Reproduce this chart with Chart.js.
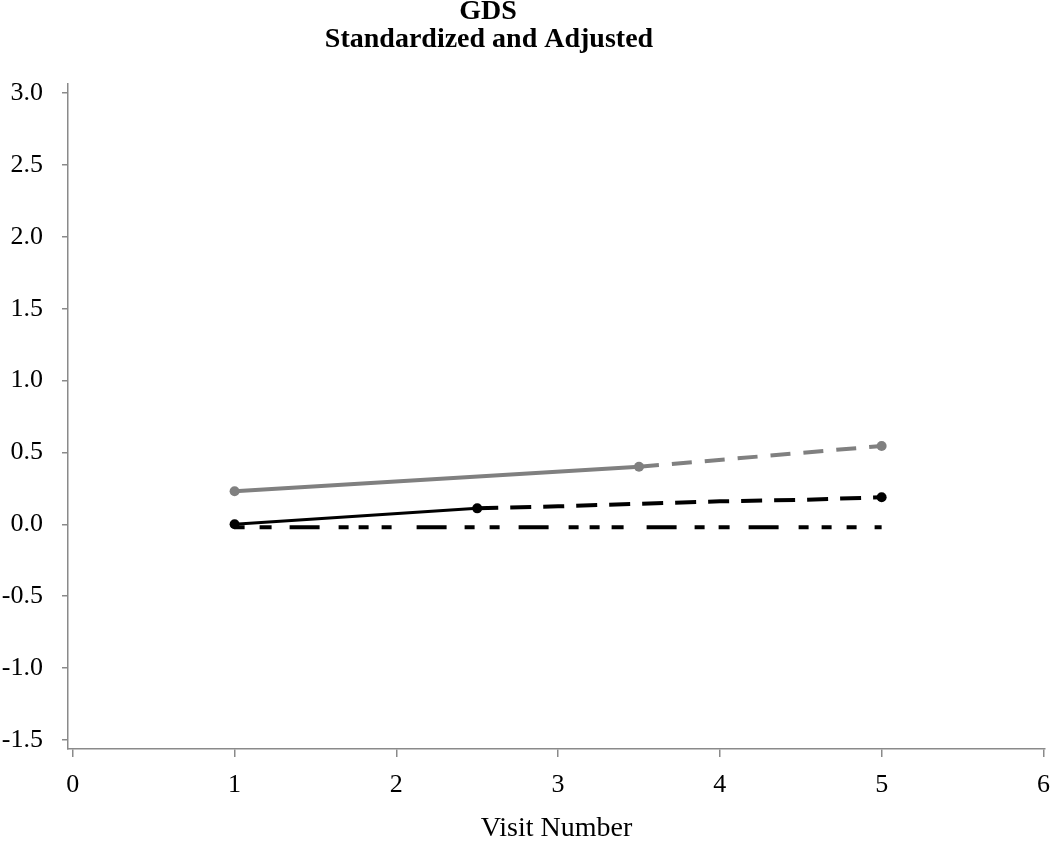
<!DOCTYPE html>
<html>
<head>
<meta charset="utf-8">
<script src="https://cdn.jsdelivr.net/npm/chart.js@4/dist/chart.umd.min.js"></script>
<style>
  html, body { margin: 0; padding: 0; background: #fff; }
  #wrap { width: 1050px; height: 843px; }
</style>
</head>
<body>
<div id="wrap"><canvas id="gds"></canvas></div>
<script>
// title lines
var titleLines = ['GDS', 'Standardized and Adjusted'];

// gray group
var grayVisits = [1, 3.5];
var grayValues = [0.23, 0.40];
var grayDashVisits = [3.5, 5];
var grayDashValues = [0.40, 0.545];

// black group
var blackVisits = [1, 2.5];
var blackValues = [0.0, 0.111];
var blackDashVisits = [2.5, 3, 3.5, 4, 4.5, 5];
var blackDashValues = [0.111, 0.125, 0.143, 0.16, 0.17, 0.188];

// reference line
var refVisits = [1, 5];
var refValues = [-0.02, -0.02];

// ticks
var xTicks = [0, 1, 2, 3, 4, 5, 6];
var yTicks = [-1.5, -1.0, -0.5, 0.0, 0.5, 1.0, 1.5, 2.0, 2.5, 3.0];

function pts(xs, ys) {
  var out = [];
  for (var i = 0; i < xs.length; i++) out.push({x: xs[i], y: ys[i]});
  return out;
}

var axisColor = '#8a8a8a';
var serif = "'Liberation Serif', 'Times New Roman', serif";

// irregular long/short pattern of the flat reference line
var refDash = [10,15,12,18,30,19,10,10,10,13,10,25,30,18,10,15,10,19,30,20,10,11,10,12,12,23,
               30,18,10,14,11,19,30,20,10,13,10,15,10,18,10,60];

// draws the two title lines a bit left of center like the original
var titlePlugin = {
  id: 'titleText',
  afterDraw: function(chart) {
    var ctx = chart.ctx;
    ctx.save();
    ctx.fillStyle = '#000';
    ctx.font = 'bold 28px ' + serif;
    ctx.textAlign = 'center';
    ctx.textBaseline = 'alphabetic';
    ctx.fillText(titleLines[0], 488, 19);
    ctx.fillText(titleLines[1], 489, 47);
    ctx.restore();
  }
};

var ctx = document.getElementById('gds');
var chart = new Chart(ctx, {
  type: 'line',
  data: {
    datasets: [
      {
        data: pts(blackVisits, blackValues),
        borderColor: '#000', backgroundColor: '#000',
        borderWidth: 3, pointRadius: 5, pointBorderWidth: 0
      },
      {
        data: pts(blackDashVisits, blackDashValues),
        borderColor: '#000', backgroundColor: '#000',
        borderWidth: 4, borderDash: [21, 12],
        pointRadius: blackDashVisits.map(function(v, i){ return i == blackDashVisits.length - 1 ? 5 : 0; }),
        pointBorderWidth: 0
      },
      {
        data: pts(grayVisits, grayValues),
        borderColor: '#808080', backgroundColor: '#808080',
        borderWidth: 4, pointRadius: 5, pointBorderWidth: 0
      },
      {
        data: pts(grayDashVisits, grayDashValues),
        borderColor: '#808080', backgroundColor: '#808080',
        borderWidth: 4, borderDash: [20, 13],
        pointRadius: [0, 5], pointBorderWidth: 0
      },
      {
        data: pts(refVisits, refValues),
        borderColor: '#000', borderWidth: 4,
        borderDash: refDash,
        pointRadius: 0
      }
    ]
  },
  options: {
    responsive: true,
    maintainAspectRatio: false,
    animation: false,
    layout: { padding: { left: 1, right: 3, top: 84, bottom: 0 } },
    plugins: {
      legend: { display: false },
      tooltip: { enabled: false },
      title: { display: false }
    },
    scales: {
      x: {
        type: 'linear',
        min: -0.03,
        max: 6.01,
        afterBuildTicks: function(scale) {
          scale.ticks = xTicks.map(function(v){ return {value: v}; });
        },
        afterFit: function(scale) {
          scale.height = 94;
          scale.paddingLeft = 0;
          scale.paddingRight = 0;
        },
        grid: { drawOnChartArea: false, drawTicks: true, tickLength: 8, color: axisColor, lineWidth: 1.5 },
        border: { display: true, color: axisColor, width: 1.5 },
        ticks: {
          color: '#000', padding: 13,
          font: { family: serif, size: 26 },
          callback: function(v){ return String(v); }
        },
        title: {
          display: true, text: 'Visit Number', color: '#000',
          font: { family: serif, size: 28, lineHeight: 1.0 },
          padding: { top: 0, bottom: 0 }
        }
      },
      y: {
        type: 'linear',
        min: -1.563,
        max: 3.063,
        afterBuildTicks: function(scale) {
          scale.ticks = yTicks.map(function(v){ return {value: v}; });
        },
        afterFit: function(scale) {
          scale.width = 67;
          scale.paddingTop = 0;
          scale.paddingBottom = 0;
        },
        grid: { drawOnChartArea: false, drawTicks: true, tickLength: 6, color: axisColor, lineWidth: 1.5 },
        border: { display: true, color: axisColor, width: 1.5 },
        ticks: {
          color: '#000', padding: 19,
          font: { family: serif, size: 26 },
          callback: function(v){ return Number(v).toFixed(1); }
        }
      }
    }
  },
  plugins: [titlePlugin]
});
</script>
</body>
</html>
